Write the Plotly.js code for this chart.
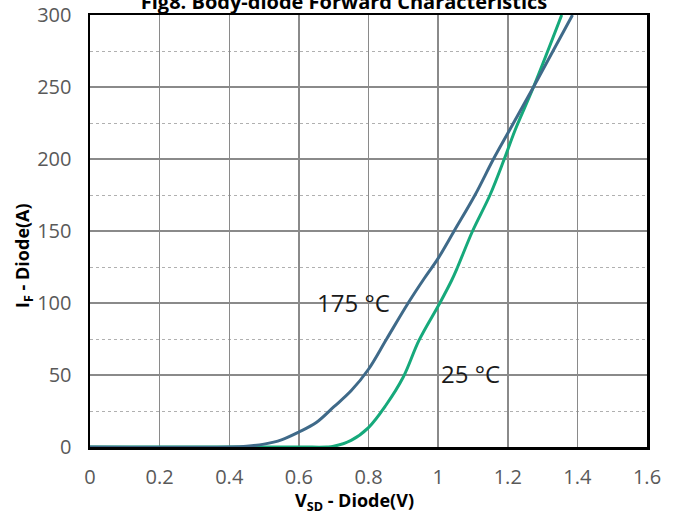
<!DOCTYPE html>
<html>
<head>
<meta charset="utf-8">
<script src="https://cdn.plot.ly/plotly-3.0.1.min.js"></script>
<style>
  html, body { margin: 0; padding: 0; background: #fff; }
  #chart { width: 683px; height: 518px; }
</style>
</head>
<body>
<div id="chart"></div>
<script>
// Body-diode forward characteristics: I_F versus V_SD at two junction temperatures
const vsd25 = [0, 0.6, 0.68, 0.7, 0.75, 0.8, 0.85, 0.9, 0.945, 1.005, 1.039, 1.056, 1.099, 1.149, 1.19, 1.221, 1.274, 1.355];
const if25  = [0, 0, 0, 0.5, 4.6, 13.5, 29, 48.6, 74, 100, 115.8, 125, 150, 175, 200, 220, 250, 300];

const vsd175 = [0, 0.4, 0.45, 0.5, 0.55, 0.6, 0.65, 0.7, 0.75, 0.8, 0.852, 0.914, 0.96, 1.0, 1.046, 1.106, 1.159, 1.205, 1.274, 1.386];
const if175  = [0, 0, 0.5, 2, 5, 10.4, 17, 27.8, 39, 54, 75, 100, 117, 131, 150, 175, 200, 220, 250, 300];

const xTickVals = [0, 0.2, 0.4, 0.6, 0.8, 1, 1.2, 1.4, 1.6];
const xTickText = ['0', '0.2', '0.4', '0.6', '0.8', '1', '1.2', '1.4', '1.6'];
const yTickVals = [0, 50, 100, 150, 200, 250, 300];
const yTickText = ['0', '50', '100', '150', '200', '250', '300'];

const curveLabels = [
  { text: '175 °C', x: 0.7555, y: 100.5 },
  { text: '25 °C',  x: 1.0916, y: 51.2 }
];

const tickFont = { family: 'Open Sans, sans-serif', size: 20, color: '#595959' };

const traces = [
  {
    x: vsd25, y: if25, name: '25°C', mode: 'lines',
    line: { color: '#16a97b', width: 3, shape: 'spline', smoothing: 1 }
  },
  {
    x: vsd175, y: if175, name: '175°C', mode: 'lines',
    line: { color: '#3f6a89', width: 3, shape: 'spline', smoothing: 1 }
  }
];

const annotations = curveLabels.map(l => ({
  text: l.text, x: l.x, y: l.y, xref: 'x', yref: 'y',
  showarrow: false, xanchor: 'center', yanchor: 'middle',
  font: { family: 'Open Sans, sans-serif', size: 24, color: '#1a1a1a' }
}));

// axis titles placed as paper-anchored labels
annotations.push({
  text: 'V<sub>SD</sub> - Diode(V)',
  xref: 'paper', yref: 'paper', x: (354 - 90) / 557, y: -(501 - 447) / 432,
  showarrow: false, xanchor: 'center', yanchor: 'middle',
  font: { family: 'Open Sans, sans-serif', size: 18, color: '#000', weight: 700 }
});
annotations.push({
  text: 'I<sub>F</sub> - Diode(A)',
  xref: 'paper', yref: 'paper', x: -(90 - 23) / 557, y: (447 - 256) / 432,
  textangle: -90,
  showarrow: false, xanchor: 'center', yanchor: 'middle',
  font: { family: 'Open Sans, sans-serif', size: 18, color: '#000', weight: 700 }
});

const layout = {
  width: 683, height: 518,
  margin: { l: 90, r: 36, t: 15, b: 71 },
  paper_bgcolor: '#fff', plot_bgcolor: '#fff',
  showlegend: false,
  title: {
    text: 'Fig8. Body-diode Forward Characteristics',
    font: { family: 'Open Sans, sans-serif', size: 20, color: '#000', weight: 700 },
    xref: 'container', yref: 'container', x: 344 / 683, xanchor: 'center',
    y: 0.997, yanchor: 'middle'
  },
  xaxis: {
    range: [0, 1.6], tickvals: xTickVals, ticktext: xTickText,
    showgrid: true, gridcolor: '#8a8a8a', gridwidth: 1.5,
    zeroline: false, showline: true, mirror: true, linecolor: '#000', linewidth: 2.5,
    ticks: '', ticklabelstandoff: 10, tickfont: tickFont
  },
  yaxis: {
    range: [0, 300], tickvals: yTickVals, ticktext: yTickText,
    showgrid: true, gridcolor: '#8a8a8a', gridwidth: 1.5,
    minor: { dtick: 25, showgrid: true, gridcolor: '#b0b0b0', griddash: 'dot', gridwidth: 1 },
    zeroline: false, showline: true, mirror: true, linecolor: '#000', linewidth: 2.5,
    ticks: '', ticklabelstandoff: 12, tickfont: tickFont
  },
  annotations: annotations
};

Plotly.newPlot('chart', traces, layout, { displayModeBar: false, staticPlot: true });
</script>
</body>
</html>
